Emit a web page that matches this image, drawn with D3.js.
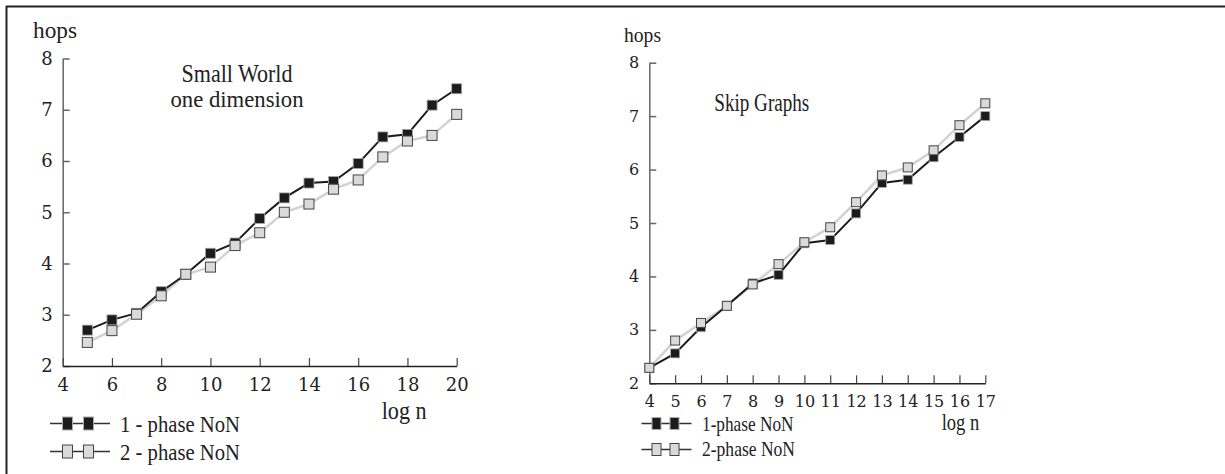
<!DOCTYPE html>
<html>
<head>
<meta charset="utf-8">
<script src="https://cdn.jsdelivr.net/npm/d3@7"></script>
<style>
  body { margin: 0; background: #fff; }
</style>
</head>
<body>
<div id="chart"></div>
<script>
// data
const smallWorldX = [5, 6, 7, 8, 9, 10, 11, 12, 13, 14, 15, 16, 17, 18, 19, 20]
const smallWorldOnePhase = [2.70, 2.90, 3.03, 3.45, 3.79, 4.20, 4.40, 4.88, 5.28, 5.57, 5.60, 5.95, 6.47, 6.52, 7.09, 7.41]
const smallWorldTwoPhase = [2.46, 2.69, 3.01, 3.37, 3.79, 3.93, 4.35, 4.60, 5.00, 5.16, 5.45, 5.63, 6.08, 6.39, 6.50, 6.91]

const skipX = [4, 5, 6, 7, 8, 9, 10, 11, 12, 13, 14, 15, 16, 17]
const skipOnePhase = [2.29, 2.56, 3.05, 3.45, 3.87, 4.03, 4.62, 4.68, 5.18, 5.75, 5.81, 6.23, 6.61, 7.00]
const skipTwoPhase = [2.29, 2.80, 3.13, 3.45, 3.85, 4.23, 4.64, 4.92, 5.39, 5.89, 6.04, 6.36, 6.83, 7.24]

const yTicks = [2, 3, 4, 5, 6, 7, 8]
const smallWorldXTicks = [4, 6, 8, 10, 12, 14, 16, 18, 20]
const skipXTicks = [4, 5, 6, 7, 8, 9, 10, 11, 12, 13, 14, 15, 16, 17]

const smallWorldLegend = ["1 - phase NoN", "2 - phase NoN"]
const skipLegend = ["1-phase NoN", "2-phase NoN"]

const width = 1225, height = 474
const textFont = "'Liberation Serif', 'Times New Roman', serif"
const numFont = "'DejaVu Serif', serif"

const svg = d3.select("#chart").append("svg")
    .attr("width", width)
    .attr("height", height)

// frame: only top and left edges are visible
svg.append("line").attr("x1", 6).attr("x2", width).attr("y1", 6.5).attr("y2", 6.5)
    .attr("stroke", "#222").attr("stroke-width", 2)
svg.append("line").attr("x1", 6.5).attr("x2", 6.5).attr("y1", 6).attr("y2", height)
    .attr("stroke", "#222").attr("stroke-width", 2)

// condensed serif label helper
function label(x, y, txt, size, len, anchor) {
    return svg.append("text")
        .attr("x", x).attr("y", y)
        .style("font-family", textFont)
        .style("font-size", size + "px")
        .attr("fill", "#222")
        .attr("text-anchor", anchor || "start")
        .attr("textLength", len)
        .attr("lengthAdjust", "spacingAndGlyphs")
        .text(txt)
}

function drawPanel(opts) {
    const x = d3.scaleLinear().domain(opts.xDomain).range(opts.xRange)
    const y = d3.scaleLinear().domain([2, 8]).range(opts.yRange)

    const g = svg.append("g")

    // y axis, ticks point inward
    g.append("g")
        .attr("transform", `translate(${opts.xRange[0]},0)`)
        .call(d3.axisLeft(y).tickValues(yTicks).tickFormat(d3.format("d"))
            .tickSizeInner(-7).tickSizeOuter(0).tickPadding(10))
        .call(g => g.select(".domain").attr("stroke", "#666").attr("stroke-width", 1.5))
        .call(g => g.selectAll(".tick line").attr("stroke", "#666").attr("stroke-width", 1.5))
        .call(g => g.selectAll(".tick text")
            .style("font-family", numFont).style("font-size", opts.numSize + "px").attr("fill", "#222"))

    // x axis, ticks point up
    g.append("g")
        .attr("transform", `translate(0,${opts.yRange[0]})`)
        .call(d3.axisBottom(x).tickValues(opts.xTicks).tickFormat(d3.format("d"))
            .tickSizeInner(-8).tickSizeOuter(0).tickPadding(opts.xPad))
        .call(g => g.select(".domain").attr("stroke", "#222").attr("stroke-width", 1.5))
        .call(g => g.selectAll(".tick line").attr("stroke", "#444").attr("stroke-width", 1.2))
        .call(g => g.selectAll(".tick text")
            .style("font-family", numFont).style("font-size", opts.numSize + "px").attr("fill", "#222"))

    const one = opts.xs.map((d, i) => ({x: d, y: opts.one[i]}))
    const two = opts.xs.map((d, i) => ({x: d, y: opts.two[i]}))

    const line = d3.line().x(d => x(d.x)).y(d => y(d.y))

    g.append("path").attr("d", line(two))
        .attr("fill", "none").attr("stroke", "#d2d2d2").attr("stroke-width", 2.5)
    g.append("path").attr("d", line(one))
        .attr("fill", "none").attr("stroke", "#1c1c1c").attr("stroke-width", 2)

    const s = opts.markSize
    g.selectAll(".m1").data(one).join("rect")
        .attr("class", "m1")
        .attr("x", d => x(d.x) - s / 2).attr("y", d => y(d.y) - s / 2)
        .attr("width", s).attr("height", s)
        .attr("fill", "#1c1c1c").attr("stroke", "#aaa").attr("stroke-width", 0.8)
    g.selectAll(".m2").data(two).join("rect")
        .attr("class", "m2")
        .attr("x", d => x(d.x) - s / 2).attr("y", d => y(d.y) - s / 2)
        .attr("width", s).attr("height", s)
        .attr("fill", "#dadada").attr("stroke", "#444").attr("stroke-width", 1)

    // legend
    opts.legend.forEach((txt, i) => {
        const ly = opts.legendY[i]
        g.append("line")
            .attr("x1", opts.legendX[0]).attr("x2", opts.legendX[1])
            .attr("y1", ly).attr("y2", ly)
            .attr("stroke", "#333").attr("stroke-width", 1.5)
        opts.legendMarks.forEach(mx => {
            g.append("rect")
                .attr("x", mx - opts.legendW / 2).attr("y", ly - opts.legendH / 2)
                .attr("width", opts.legendW).attr("height", opts.legendH)
                .attr("fill", i == 0 ? "#1c1c1c" : "#dadada")
                .attr("stroke", i == 0 ? "#aaa" : "#444").attr("stroke-width", 1)
        })
        label(opts.legendTextX, opts.legendTextY[i], txt, opts.legendSize, opts.legendLen[i])
    })
}

drawPanel({
    xDomain: [4, 20], xRange: [62.7, 456.7], yRange: [366, 58.5],
    xTicks: smallWorldXTicks, xPad: 12, numSize: 18,
    xs: smallWorldX, one: smallWorldOnePhase, two: smallWorldTwoPhase,
    markSize: 10,
    legend: smallWorldLegend, legendX: [50, 110], legendY: [423.5, 451.5],
    legendMarks: [67.5, 88.5], legendW: 10, legendH: 13,
    legendTextX: 120, legendTextY: [432, 460], legendSize: 23, legendLen: [120, 120]
})

drawPanel({
    xDomain: [4, 17], xRange: [649.3, 985.3], yRange: [383.3, 62.7],
    xTicks: skipXTicks, xPad: 12, numSize: 16,
    xs: skipX, one: skipOnePhase, two: skipTwoPhase,
    markSize: 9,
    legend: skipLegend, legendX: [641.5, 691.5], legendY: [423.5, 449.5],
    legendMarks: [656.5, 674.5], legendW: 9, legendH: 12,
    legendTextX: 702, legendTextY: [431, 456], legendSize: 21, legendLen: [91.5, 93]
})

// axis titles and panel titles
label(33, 38, "hops", 23, 44)
label(624, 41.5, "hops", 22, 37)
label(237, 82, "Small World", 25, 111, "middle")
label(237, 107, "one dimension", 24, 133, "middle")
label(714.3, 111, "Skip Graphs", 25, 95)
label(381.7, 419, "log n", 25, 45)
label(941.7, 430, "log n", 24, 37.6)
</script>
</body>
</html>
